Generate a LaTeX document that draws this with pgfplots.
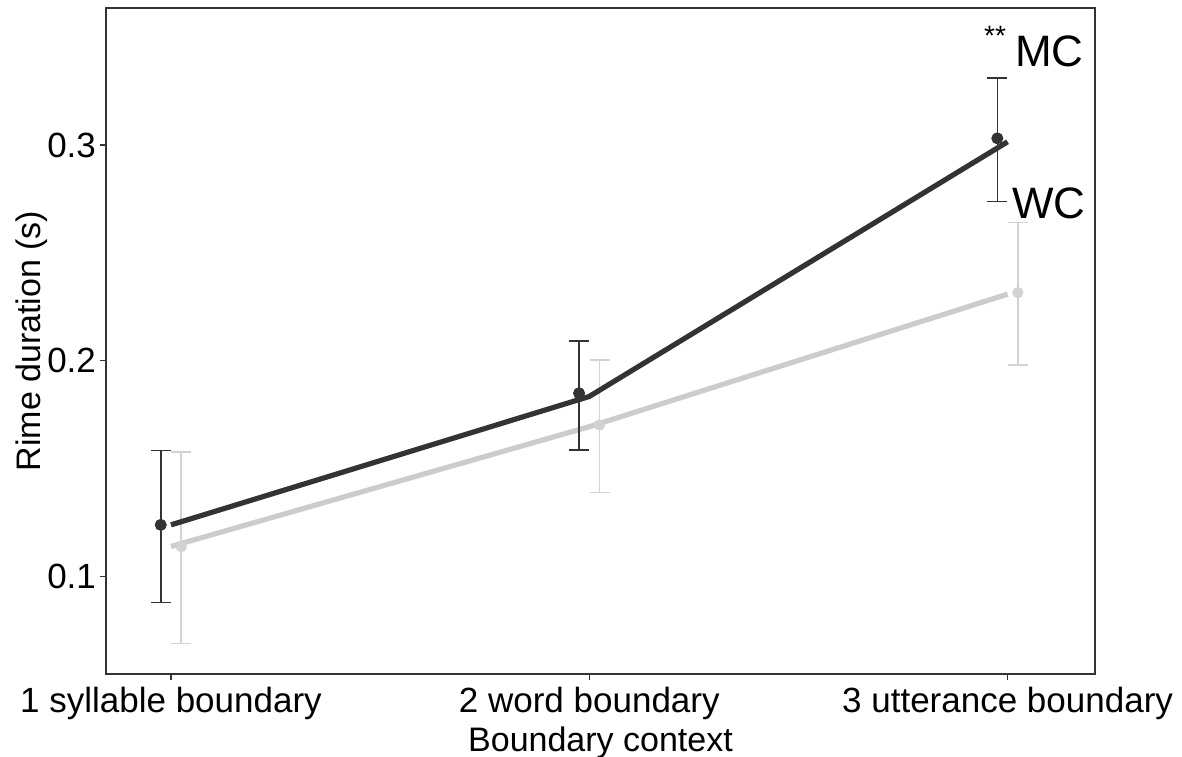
\documentclass[border=0pt]{standalone}
\usepackage{pgfplots}
\pgfplotsset{compat=1.18}
\usepackage{pgfplotstable}
\usepackage{fontspec}
\setmainfont{Liberation Sans}
\definecolor{mcdark}{HTML}{333333}
\definecolor{wclight}{HTML}{CCCCCC}
\definecolor{wcbar}{HTML}{D3D3D3}
\definecolor{frame}{HTML}{333333}

\pgfplotstableread{
x y ep em
0.9755 0.1240 0.0344 0.0359
1.9755 0.1850 0.0242 0.0263
2.9755 0.3031 0.0279 0.0293
}\mcpoints
\pgfplotstableread{
x y ep em
1.0245 0.1139 0.0439 0.0448
2.0245 0.1703 0.0301 0.0312
3.0245 0.2316 0.0324 0.0335
}\wcpoints
\pgfplotstableread{
x y
1 0.1240
2 0.1835
3 0.3015
}\mcline
\pgfplotstableread{
x y
1 0.1140
2 0.1695
3 0.2309
}\wcline

\begin{document}
\begin{tikzpicture}
\useasboundingbox (-53pt,-41pt) rectangle (538pt,337pt);
\begin{axis}[
  scale only axis,
  width=494.5pt, height=333pt,
  xmin=0.8446, xmax=3.209,
  ymin=0.0549, ymax=0.3635,
  xtick={1,2,3},
  xticklabels={1 syllable boundary, 2 word boundary, 3 utterance boundary},
  ytick={0.1,0.2,0.3},
  yticklabels={0.1,0.2,0.3},
  tick align=outside,
  tick pos=left,
  major tick length=3pt,
  tick style={color=frame, line width=0.6pt},
  axis line style={color=frame, line width=0.8pt},
  ticklabel style={font=\fontsize{17.5}{20}\selectfont, text=black},
  yticklabel style={xshift=1.5pt},
  label style={font=\fontsize{17}{20}\selectfont, text=black},
  xlabel={Boundary context},
  ylabel={Rime duration (s)},
  xlabel style={yshift=3.5pt},
  ylabel style={yshift=-7pt},
  /pgf/number format/assume math mode=true,
  clip=false,
]
% WC error bars and points
\addplot[only marks, mark=*, mark size=2.6pt, color=wcbar, mark options={fill=wcbar, draw=wcbar},
  error bars/.cd, y dir=both, y explicit,
  error bar style={line width=0.75pt, color=wcbar},
  error mark options={rotate=90, mark size=5pt, line width=0.75pt, color=wcbar}]
  table[x=x, y=y, y error plus=ep, y error minus=em] {\wcpoints};
\addplot[color=wclight, line width=2.6pt, mark=none] table[x=x,y=y] {\wcline};
% MC error bars and points
\addplot[only marks, mark=*, mark size=2.8pt, color=mcdark, mark options={fill=mcdark, draw=mcdark},
  error bars/.cd, y dir=both, y explicit,
  error bar style={line width=0.8pt, color=mcdark},
  error mark options={rotate=90, mark size=5pt, line width=0.8pt, color=mcdark}]
  table[x=x, y=y, y error plus=ep, y error minus=em] {\mcpoints};
\addplot[color=mcdark, line width=2.6pt, mark=none] table[x=x,y=y] {\mcline};

\node[font=\fontsize{22}{24}\selectfont, anchor=center, inner sep=0pt] at (axis cs:3.100,0.3436) {MC};
\node[font=\fontsize{22}{24}\selectfont, anchor=center, inner sep=0pt] at (axis cs:3.099,0.2732) {WC};
\node[font=\fontsize{14}{16}\selectfont, anchor=center, inner sep=0pt] at (axis cs:2.970,0.3505) {**};
\end{axis}
\end{tikzpicture}
\end{document}
